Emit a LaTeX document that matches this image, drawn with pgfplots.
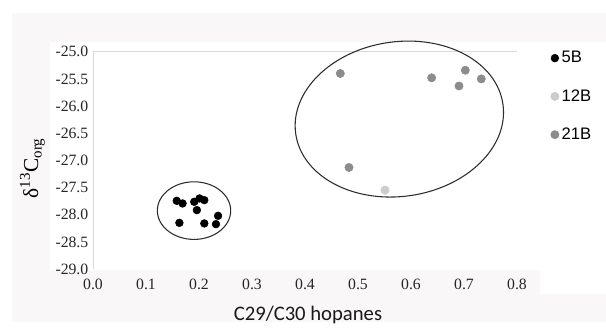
\documentclass[border=0pt]{standalone}
\usepackage{pgfplots}
\pgfplotsset{compat=1.18}
\usepackage{fontspec}
\setmainfont{Liberation Serif}
\newfontfamily\legendfont{Liberation Sans}
\newfontfamily\labelfont{Carlito}

\definecolor{pagebg}{RGB}{249,247,247}
\definecolor{framegray}{RGB}{217,217,217}
\definecolor{light12}{RGB}{204,204,202}
\definecolor{mid21}{RGB}{140,140,142}
\definecolor{ringcol}{RGB}{45,45,45}

\begin{document}
\begin{tikzpicture}
% page and panel backgrounds
\fill[pagebg] (-60.75pt,-39.75pt) rectangle (384.75pt,192pt);
\fill[white] (-32.25pt,-0.75pt) rectangle (335.25pt,170.3pt);
\fill[white] (335.25pt,-18.75pt) rectangle (384.75pt,170.3pt);
\begin{axis}[
  at={(0,0)}, anchor=south west,
  scale only axis, width=318pt, height=163pt,
  xmin=0, xmax=0.8, ymin=-29, ymax=-25,
  xtick={0,0.1,...,0.8}, ytick={-29,-28.5,...,-25},
  axis line style={draw=none}, tick style={draw=none},
  /pgf/number format/.cd, fixed, fixed zerofill, precision=1, assume math mode=true,
  /pgfplots/.cd,
  tick label style={font=\rmfamily\fontsize{11.8}{14}\selectfont, text=black!85},
  xticklabel style={yshift=-4pt},
  xlabel={C29/C30 hopanes},
  xlabel style={font=\labelfont\fontsize{15.5}{18}\selectfont, text=black!90,
    at={(axis description cs:0.507,-0.2347)}, anchor=base},
  ylabel={\fontsize{16}{18}\selectfont δ\textsuperscript{13}C\textsubscript{org}},
  ylabel style={at={(axis description cs:-0.143,0.464)}, anchor=center, rotate=0},
  legend style={draw=none, fill=none, inner sep=0pt,
    at={(axis description cs:1.079,1.015)}, anchor=north west,
    font=\legendfont\fontsize{12.5}{14}\selectfont,
    row sep=14.5pt,
    nodes={inner sep=2pt},
    /tikz/every even column/.append style={column sep=4.5pt}},
  legend cell align=left,
  legend image code/.code={\draw[#1] plot coordinates {(0pt,0pt)};},
  clip=false,
]
% frame lines
\draw[framegray, line width=0.6pt] (axis cs:0,-25) -- (axis cs:0.8,-25);
\draw[framegray, line width=0.6pt] (axis cs:0,-25) -- (axis cs:0,-29);

\addplot[only marks, mark=*, mark size=2.9pt, color=black] coordinates {
  (0.158,-27.744) (0.169,-27.792) (0.191,-27.762) (0.201,-27.700)
  (0.210,-27.731) (0.196,-27.915) (0.236,-28.020) (0.163,-28.149)
  (0.210,-28.160) (0.232,-28.173)
};
\addlegendentry{5B}
\addplot[only marks, mark=*, mark size=3.1pt, color=light12] coordinates {
  (0.551,-27.547)
};
\addlegendentry{12B}
\addplot[only marks, mark=*, mark size=3.1pt, color=mid21] coordinates {
  (0.4666,-25.40) (0.639,-25.48) (0.7025,-25.34) (0.6906,-25.63)
  (0.7326,-25.50) (0.483,-27.13)
};
\addlegendentry{21B}

% group outlines
\draw[ringcol, line width=0.8pt] (axis cs:0.1906,-27.924) ellipse [x radius=27.5pt, y radius=21.6pt];
\draw[ringcol, line width=0.8pt, rotate around={8.2:(axis cs:0.578,-26.239)}]
  (axis cs:0.578,-26.239) ellipse [x radius=78.5pt, y radius=58pt];
\end{axis}
\path[use as bounding box] (-69.75pt,-39.75pt) rectangle (384.75pt,201.8pt);
\end{tikzpicture}
\end{document}
